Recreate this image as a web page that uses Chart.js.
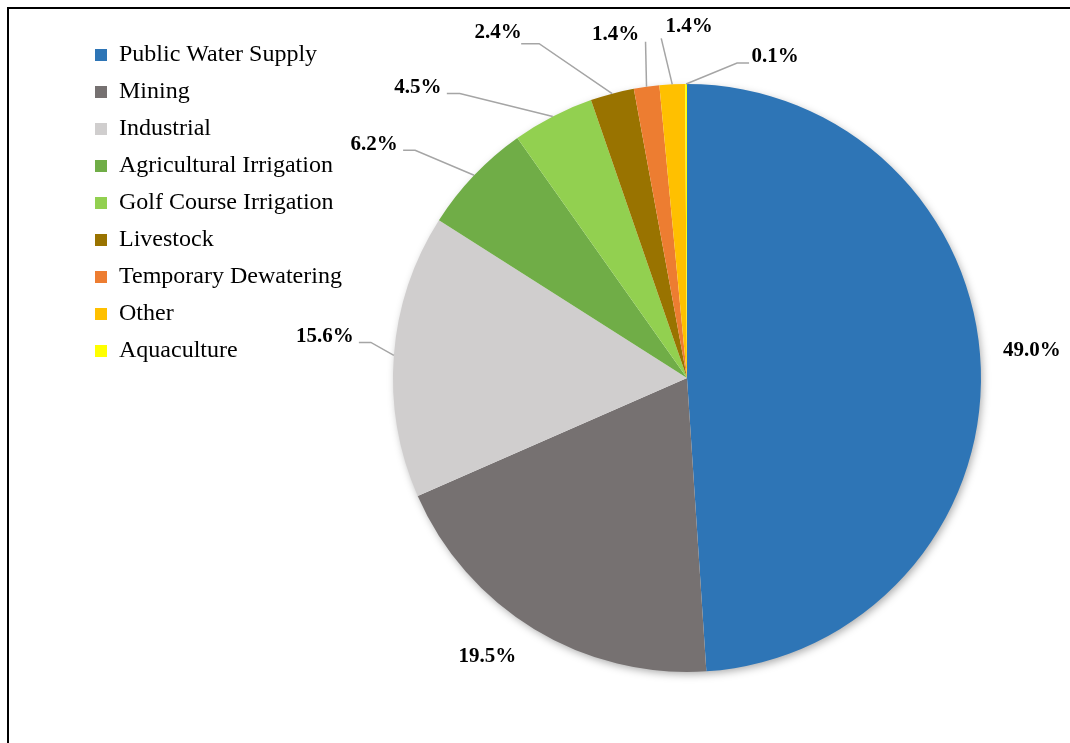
<!DOCTYPE html>
<html>
<head>
<meta charset="utf-8">
<script src="https://cdn.jsdelivr.net/npm/chart.js@4.4.1/dist/chart.umd.min.js"></script>
<style>
	html, body { margin: 0; padding: 0; background: #fff; overflow: hidden; width: 1070px; height: 743px; }
	#frame { position: absolute; left: 7px; top: 7px; width: 1200px; height: 900px; border-top: 2px solid #000; border-left: 2px solid #000; }
	#pie-use { position: absolute; left: 0; top: 0; }
</style>
</head>
<body>
<div id="frame"></div>
<canvas id="pie-use" width="1300" height="743"></canvas>
<script>
var categories = ['Public Water Supply', 'Mining', 'Industrial', 'Agricultural Irrigation', 'Golf Course Irrigation', 'Livestock', 'Temporary Dewatering', 'Other', 'Aquaculture'];
var shares = [49.0, 19.5, 15.6, 6.2, 4.5, 2.4, 1.4, 1.4, 0.1];
var colors = ['#2E75B6', '#767171', '#D0CECE', '#70AD47', '#92D050', '#997300', '#ED7D31', '#FFC000', '#FFFF00'];

// label offset from the slice's outer edge point, and leader line (relative to that point)
var labelOffsets = [[51, -18], [-47, 27], [-69, -19], [-100, -31], [-135, -29], [-114, -61], [-31, -52], [17, -58], [89, -27]];
var leaders = [
	null,
	null,
	[[0, 0], [-23, -13], [-35, -13]],
	[[0, 0], [-59, -25], [-71, -25]],
	[[0, 0], [-93, -23], [-106, -23]],
	[[0, 0], [-73, -50], [-91, -50]],
	[[0, 0], [-1, -45]],
	[[0, 0], [-11, -46]],
	[[0, 0], [51, -21], [63, -21]]
];

const SERIF = "'Liberation Serif', 'Times New Roman', serif";

const pieShadow = {
	id: 'pieShadow',
	beforeDatasetsDraw(chart) {
		const arc = chart.getDatasetMeta(0).data[0];
		if (!arc) return;
		const ctx = chart.ctx;
		ctx.save();
		ctx.shadowColor = 'rgba(0,0,0,0.35)';
		ctx.shadowBlur = 9;
		ctx.shadowOffsetX = 2;
		ctx.shadowOffsetY = 3;
		ctx.fillStyle = '#fff';
		ctx.beginPath();
		ctx.arc(arc.x, arc.y, arc.outerRadius - 1, 0, Math.PI * 2);
		ctx.fill();
		ctx.restore();
	}
};

const outsideLabels = {
	id: 'outsideLabels',
	afterDatasetsDraw(chart) {
		const ctx = chart.ctx;
		const meta = chart.getDatasetMeta(0);
		ctx.save();
		meta.data.forEach((arc, i) => {
			const mid = (arc.startAngle + arc.endAngle) / 2;
			const ax = arc.x + Math.cos(mid) * arc.outerRadius;
			const ay = arc.y + Math.sin(mid) * arc.outerRadius;
			if (leaders[i]) {
				ctx.strokeStyle = '#A5A5A5';
				ctx.lineWidth = 1.5;
				ctx.beginPath();
				leaders[i].forEach((p, k) => {
					if (k === 0) ctx.moveTo(ax + p[0], ay + p[1]);
					else ctx.lineTo(ax + p[0], ay + p[1]);
				});
				ctx.stroke();
			}
			ctx.fillStyle = '#000';
			ctx.font = 'bold 21px ' + SERIF;
			ctx.textAlign = 'center';
			ctx.textBaseline = 'middle';
			ctx.fillText(shares[i].toFixed(1) + '%', ax + labelOffsets[i][0], ay + labelOffsets[i][1]);
		});
		ctx.restore();
	}
};

new Chart(document.getElementById('pie-use'), {
	type: 'pie',
	data: {
		labels: categories,
		datasets: [{
			data: shares,
			backgroundColor: colors,
			borderWidth: 0,
			radius: 294
		}]
	},
	options: {
		responsive: false,
		animation: false,
		layout: {
			padding: { left: 82, top: 28, right: 8, bottom: 15 }
		},
		plugins: {
			legend: {
				display: true,
				position: 'chartArea',
				align: 'start',
				title: {
					// empty title only used to push the legend rows down
					display: true,
					text: ' ',
					font: { size: 10 },
					padding: 9
				},
				labels: {
					boxWidth: 12,
					boxHeight: 12,
					padding: 13,
					color: '#000',
					font: { family: SERIF, size: 24 }
				}
			},
			tooltip: { enabled: false }
		}
	},
	plugins: [pieShadow, outsideLabels]
});
</script>
</body>
</html>
